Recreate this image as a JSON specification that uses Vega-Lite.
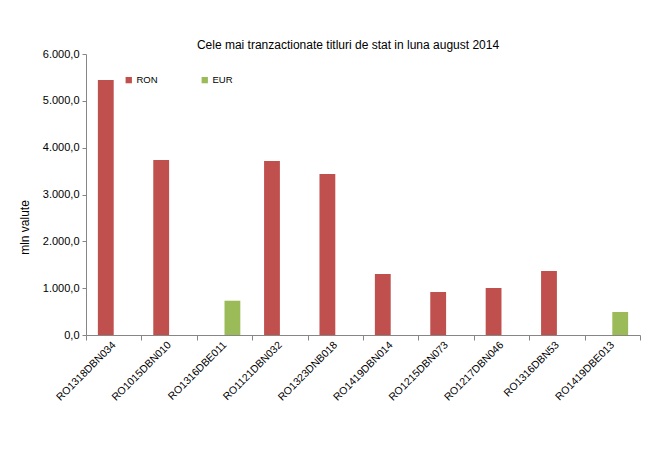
{
  "$schema": "https://vega.github.io/schema/vega-lite/v6.json",
  "width": 554,
  "height": 281,
  "autosize": {"type": "none"},
  "padding": {"left": 86, "top": 54, "right": 29, "bottom": 139},
  "background": "white",
  "config": {
    "font": "Liberation Sans",
    "view": {"stroke": null},
    "locale": {"number": {"decimal": ",", "thousands": ".", "grouping": [3], "currency": ["", ""]}}
  },
  "title": {
    "text": "Cele mai tranzactionate titluri de stat in luna august 2014",
    "fontSize": 12,
    "fontWeight": "normal",
    "color": "#000000",
    "frame": "group",
    "anchor": "middle",
    "dx": -15,
    "baseline": "alphabetic",
    "offset": -13
  },
  "data": {
    "values": [
      {"titlu": "RO1318DBN034", "moneda": "RON", "valoare": 5445},
      {"titlu": "RO1015DBN010", "moneda": "RON", "valoare": 3737},
      {"titlu": "RO1316DBE011", "moneda": "EUR", "valoare": 732},
      {"titlu": "RO1121DBN032", "moneda": "RON", "valoare": 3716},
      {"titlu": "RO1323DNB018", "moneda": "RON", "valoare": 3438},
      {"titlu": "RO1419DBN014", "moneda": "RON", "valoare": 1302},
      {"titlu": "RO1215DBN073", "moneda": "RON", "valoare": 918},
      {"titlu": "RO1217DBN046", "moneda": "RON", "valoare": 1004},
      {"titlu": "RO1316DBN53", "moneda": "RON", "valoare": 1367},
      {"titlu": "RO1419DBE013", "moneda": "EUR", "valoare": 491}
    ]
  },
  "mark": {"type": "bar"},
  "encoding": {
    "x": {
      "field": "titlu",
      "type": "nominal",
      "sort": null,
      "scale": {"paddingInner": 0, "paddingOuter": 0},
      "axis": {
        "title": null,
        "labelAngle": -45,
        "labelAlign": "right",
        "labelBaseline": "middle",
        "labelFontSize": 10.5,
        "labelColor": "#000000",
        "labelPadding": 3,
        "tickBand": "extent",
        "tickSize": 5,
        "tickColor": "#868686",
        "domainColor": "#868686",
        "grid": false
      }
    },
    "xOffset": {
      "field": "moneda",
      "type": "nominal",
      "sort": ["RON", "EUR"],
      "scale": {"paddingInner": 0, "paddingOuter": 0.75}
    },
    "y": {
      "field": "valoare",
      "type": "quantitative",
      "scale": {"domain": [0, 6000], "nice": false},
      "axis": {
        "title": "mln valute",
        "titleFontSize": 12,
        "titleFontWeight": "normal",
        "titleColor": "#000000",
        "titleX": -55,
        "titleY": 173,
        "titleAlign": "center",
        "values": [0, 1000, 2000, 3000, 4000, 5000, 6000],
        "format": ",.1f",
        "labelFontSize": 11,
        "labelColor": "#000000",
        "labelPadding": 3,
        "tickSize": 4,
        "tickColor": "#868686",
        "domainColor": "#868686",
        "grid": false
      }
    },
    "color": {
      "field": "moneda",
      "type": "nominal",
      "scale": {"domain": ["RON", "EUR"], "range": ["#C0504D", "#9BBB59"]},
      "legend": {
        "title": null,
        "orient": "none",
        "legendX": 38,
        "legendY": 21,
        "direction": "horizontal",
        "symbolType": "square",
        "symbolSize": 40,
        "symbolStrokeWidth": 0,
        "labelFontSize": 9.5,
        "labelColor": "#000000",
        "labelOffset": 3,
        "columnPadding": 42
      }
    }
  }
}
